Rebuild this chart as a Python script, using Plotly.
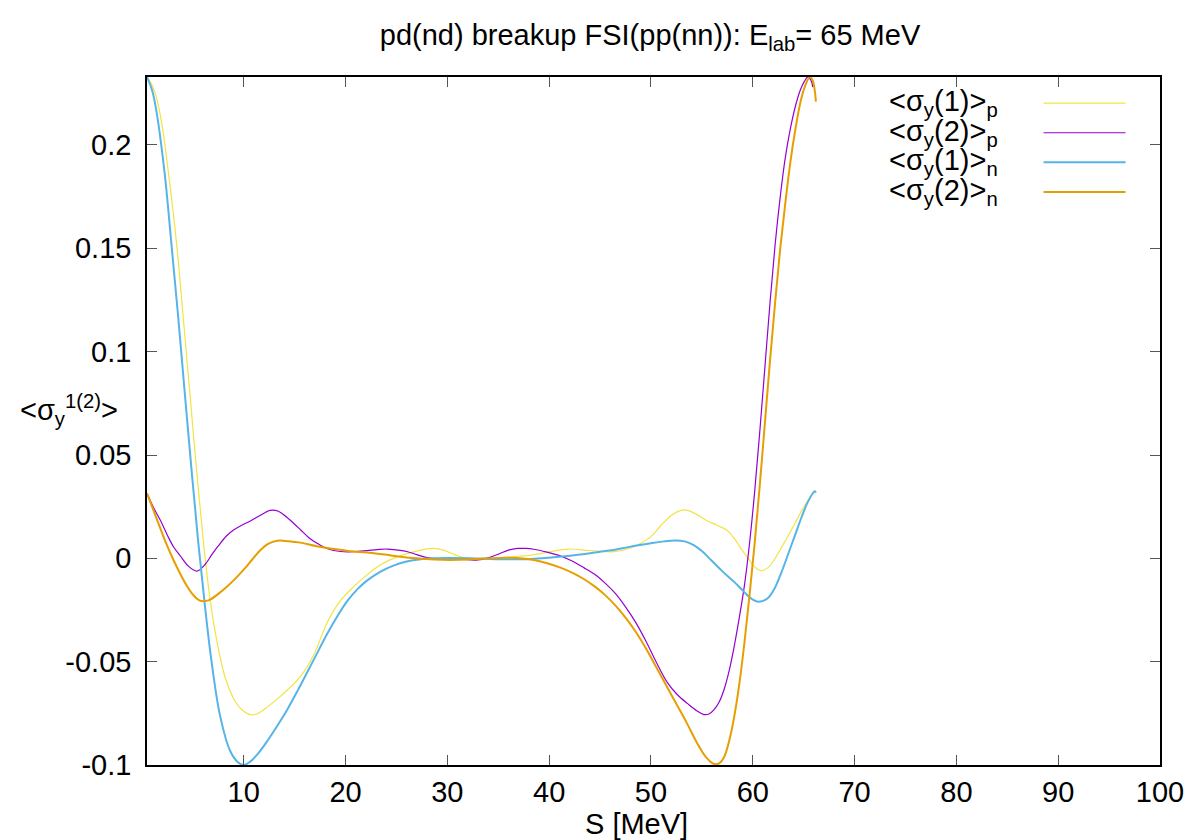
import plotly.graph_objects as go

# <sigma_y(1)>_p  (yellow)
s_p1 = [0.5, 1.0, 1.5, 2.0, 2.57, 3.39, 4.05, 4.71, 5.36, 6.02, 6.7,
        7.4, 8.2, 9.2, 10.0, 10.8, 11.5, 12.3, 13.3, 14.3, 15.6,
        16.9, 18.2, 19.5, 20.8, 22.1, 23.4, 24.7, 26.1, 27.4, 28.6,
        29.6, 30.5, 31.6, 33.6, 35.5, 36.9, 38.2, 40.2, 41.8, 44.0,
        46.4, 48.0, 49.0, 50.0, 51.0, 52.2, 53.3, 54.4, 55.5, 56.5,
        57.5, 58.2, 58.8, 59.5, 60.1, 60.8, 61.5, 62.1, 62.9, 63.8,
        64.6, 65.4, 65.9, 66.1]
sig_p1 = [0.2329, 0.229, 0.2215, 0.209, 0.188, 0.153, 0.117, 0.080, 0.043, 0.009, -0.020,
          -0.041, -0.058, -0.0695, -0.0740, -0.0758, -0.0748, -0.0720, -0.0680, -0.0637, -0.0570,
          -0.0465, -0.0310, -0.0205, -0.0137, -0.0080, -0.0032, 0.0, 0.0024, 0.0040, 0.0048,
          0.0040, 0.0022, 0.0003, -0.0002, 0.0004, 0.0010, 0.0015, 0.0033, 0.0045, 0.0038,
          0.0032, 0.0050, 0.0073, 0.0105, 0.0160, 0.0215, 0.0234, 0.0215, 0.0182, 0.0160,
          0.0135, 0.0095, 0.0050, 0.0003, -0.0038, -0.0060, -0.0045, -0.0008, 0.0060, 0.0137,
          0.0212, 0.0278, 0.0313, 0.0320]

# <sigma_y(2)>_p  (purple)
s_p2 = [0.5, 1.2, 1.8, 2.5, 3.1, 3.8, 4.5, 5.4, 6.2, 6.9,
        7.5, 8.3, 9.0, 9.8, 10.7, 11.6, 12.6, 13.4, 14.2, 15.0,
        15.6, 16.4, 17.2, 18.3, 19.5, 20.8, 22.1, 23.1, 24.1, 25.1,
        26.1, 27.0, 28.0, 29.3, 30.7, 32.0, 33.0, 34.0, 35.0, 36.0,
        36.9, 37.7, 38.5, 39.8, 41.1, 42.2, 43.4, 44.5, 45.5, 46.5,
        47.5, 48.5, 49.5, 50.5, 51.6, 52.6, 53.6, 54.5, 55.2, 55.7,
        56.2, 56.7, 57.2, 57.7, 58.2, 58.7, 59.2, 59.7, 60.2, 60.7,
        61.2, 61.7, 62.2, 62.7, 63.2, 63.7, 64.2, 64.7, 65.1, 65.4,
        65.7, 65.9]
sig_p2 = [0.0314, 0.0240, 0.0185, 0.0112, 0.0056, 0.0010, -0.0035, -0.0062, -0.0030, 0.0020,
          0.0060, 0.0108, 0.0137, 0.0160, 0.0182, 0.0207, 0.0232, 0.0228, 0.0200, 0.0165,
          0.0137, 0.0100, 0.0073, 0.0045, 0.0033, 0.0032, 0.0037, 0.0042, 0.0045, 0.0040,
          0.0032, 0.0018, 0.0003, -0.0003, -0.0004, -0.0006, -0.0008, 0.0002, 0.0020, 0.0040,
          0.0048, 0.0048, 0.0044, 0.0030, 0.0012, -0.0012, -0.0045, -0.0078, -0.0120, -0.0170,
          -0.0235, -0.0310, -0.0400, -0.0500, -0.0600, -0.0660, -0.0703, -0.0738, -0.0756, -0.0753,
          -0.0732, -0.0695, -0.0632, -0.0540, -0.0420, -0.0280, -0.0125, 0.0080, 0.0330, 0.0620,
          0.0930, 0.1240, 0.1520, 0.1750, 0.1940, 0.2080, 0.2190, 0.2270, 0.2310, 0.2329,
          0.2315, 0.2280]

# <sigma_y(1)>_n  (blue)
s_n1 = [0.5, 1.0, 1.42, 2.24, 2.9, 3.56, 4.21, 4.87, 5.53, 6.19,
        6.84, 7.67, 8.65, 9.4, 10.0, 10.6, 11.4, 12.3, 13.3, 14.3,
        15.3, 16.2, 17.2, 18.2, 19.2, 20.2, 21.2, 22.1, 23.4, 24.7,
        26.0, 27.4, 28.7, 30.3, 32.0, 33.6, 35.3, 36.9, 38.2, 40.2,
        41.6, 43.1, 44.5, 45.9, 47.3, 48.6, 50.0, 51.3, 52.4, 53.3,
        54.2, 55.0, 55.9, 57.0, 58.2, 59.0, 59.5, 60.0, 60.5, 61.0,
        61.5, 62.1, 62.8, 63.4, 64.1, 64.8, 65.4, 65.9, 66.1, 66.2]
sig_n1 = [0.2329, 0.2265, 0.2165, 0.186, 0.152, 0.117, 0.080, 0.043, 0.008, -0.023,
          -0.050, -0.076, -0.093, -0.0985, -0.1000, -0.0985, -0.0945, -0.0885, -0.0810, -0.0730,
          -0.0640, -0.0555, -0.0460, -0.0365, -0.0280, -0.0205, -0.0148, -0.0108, -0.0065, -0.0035,
          -0.0015, -0.0004, 0.0, 0.0001, 0.0, -0.0002, -0.0004, -0.0004, -0.0003, 0.0004,
          0.0010, 0.0018, 0.0028, 0.0038, 0.0050, 0.0062, 0.0073, 0.0082, 0.0086, 0.0082,
          0.0064, 0.0035, -0.0008, -0.0062, -0.0115, -0.0155, -0.0180, -0.0200, -0.0210, -0.0206,
          -0.0192, -0.0150, -0.0070, 0.0010, 0.0105, 0.0200, 0.0272, 0.0315, 0.0325, 0.0318]

# <sigma_y(2)>_n  (orange)
s_n2 = [0.5, 1.0, 1.5, 2.3, 3.1, 3.8, 4.4, 5.0, 5.7, 6.2,
        6.7, 7.5, 8.4, 9.2, 10.0, 10.8, 11.6, 12.4, 13.3, 14.4,
        15.6, 17.2, 18.9, 20.5, 22.1, 23.8, 25.4, 27.0, 28.7, 30.3,
        32.0, 33.6, 35.3, 36.9, 38.5, 39.8, 41.1, 42.3, 43.4, 44.5,
        45.5, 46.5, 47.5, 48.5, 49.5, 50.5, 51.5, 52.5, 53.5, 54.6,
        55.4, 56.2, 56.7, 57.2, 57.7, 58.2, 58.7, 59.2, 59.7, 60.2,
        60.7, 61.2, 61.7, 62.2, 62.7, 63.2, 63.7, 64.2, 64.7, 65.1,
        65.6, 65.9, 66.1, 66.2]
sig_n2 = [0.0314, 0.0250, 0.0185, 0.0082, -0.0008, -0.0078, -0.0132, -0.0175, -0.0205, -0.0207,
          -0.0200, -0.0172, -0.0135, -0.0097, -0.0055, -0.0008, 0.0038, 0.0070, 0.0085, 0.0083,
          0.0076, 0.0058, 0.0045, 0.0034, 0.0028, 0.0018, 0.0008, 0.0, -0.0006, -0.0008,
          -0.0006, -0.0001, 0.0002, 0.0002, -0.0008, -0.0024, -0.0045, -0.0070, -0.0100, -0.0137,
          -0.0178, -0.0228, -0.0287, -0.0355, -0.0435, -0.0525, -0.0615, -0.0705, -0.0795, -0.0900,
          -0.0962, -0.0995, -0.0992, -0.0960, -0.0880, -0.0760, -0.0600, -0.0400, -0.0170, 0.0080,
          0.0360, 0.0660, 0.0960, 0.1240, 0.1500, 0.1720, 0.1920, 0.2080, 0.2210, 0.2280,
          0.2329, 0.2310, 0.2260, 0.2210]

labels = ["&lt;σ<sub>y</sub>(1)&gt;<sub>p</sub>", "&lt;σ<sub>y</sub>(2)&gt;<sub>p</sub>",
          "&lt;σ<sub>y</sub>(1)&gt;<sub>n</sub>", "&lt;σ<sub>y</sub>(2)&gt;<sub>n</sub>"]
colors = ["#f0e442", "#9400d3", "#56b4e9", "#e69f00"]
widths = [1.2, 1.2, 2, 2]

xticks = [10, 20, 30, 40, 50, 60, 70, 80, 90, 100]
yticks = [-0.1, -0.05, 0, 0.05, 0.1, 0.15, 0.2]
yticktext = ["-0.1", "-0.05", "0", "0.05", "0.1", "0.15", "0.2"]

FONT = "Liberation Sans, Arial, sans-serif"
FS = 29

fig = go.Figure()
series = [(s_p1, sig_p1), (s_p2, sig_p2), (s_n1, sig_n1), (s_n2, sig_n2)]
for (xs, ys), lab, c, w in zip(series, labels, colors, widths):
    fig.add_trace(go.Scatter(x=xs, y=ys, mode="lines", name=lab,
                             line=dict(color=c, width=w, shape="spline", smoothing=1.0),
                             showlegend=False))

# gnuplot-style key: text right-aligned, line sample to the right
key_top = 0.962
key_step = 0.043
for i, (lab, c, w) in enumerate(zip(labels, colors, widths)):
    yk = key_top - i * key_step
    fig.add_annotation(xref="paper", yref="paper", x=0.842, y=yk, text=lab,
                       showarrow=False, xanchor="right", yanchor="middle",
                       font=dict(size=FS, color="black", family=FONT))
    fig.add_shape(type="line", xref="paper", yref="paper", x0=0.885, x1=0.966,
                  y0=yk, y1=yk, line=dict(color=c, width=w))

# axis labels
fig.add_annotation(xref="paper", yref="paper", x=0.483, y=-0.086, text="S [MeV]",
                   showarrow=False, xanchor="center", yanchor="middle",
                   font=dict(size=FS, color="black", family=FONT))
fig.add_annotation(xref="paper", yref="paper", x=-0.127, y=0.516,
                   text="&lt;σ<sub>y</sub><sup>1(2)</sup>&gt;",
                   showarrow=False, xanchor="left", yanchor="middle",
                   font=dict(size=FS, color="black", family=FONT))

axis_common = dict(showline=True, linecolor="black", linewidth=1.5, mirror="ticks",
                   ticks="inside", ticklen=10, tickcolor="#555", tickwidth=1.2,
                   showgrid=False, zeroline=False,
                   tickfont=dict(size=FS, color="black", family=FONT))

fig.update_xaxes(range=[0.5, 100], tickvals=xticks, **axis_common)
fig.update_yaxes(range=[-0.1, 0.2329], tickvals=yticks, ticktext=yticktext,
                 ticklabelstandoff=8, **axis_common)

# page body has an 8px margin, so the figure is sized to fit the window
fig.update_layout(
    width=1192, height=832,
    margin=dict(l=139, r=40, t=69, b=75),
    paper_bgcolor="white", plot_bgcolor="white",
    font=dict(family=FONT, size=FS, color="black"),
    title=dict(text="pd(nd) breakup FSI(pp(nn)): E<sub>lab</sub>= 65 MeV",
               x=0.5386, xanchor="center", y=0.9675, yanchor="middle",
               font=dict(size=FS, color="black", family=FONT)),
)

fig.write_html("out.html")
